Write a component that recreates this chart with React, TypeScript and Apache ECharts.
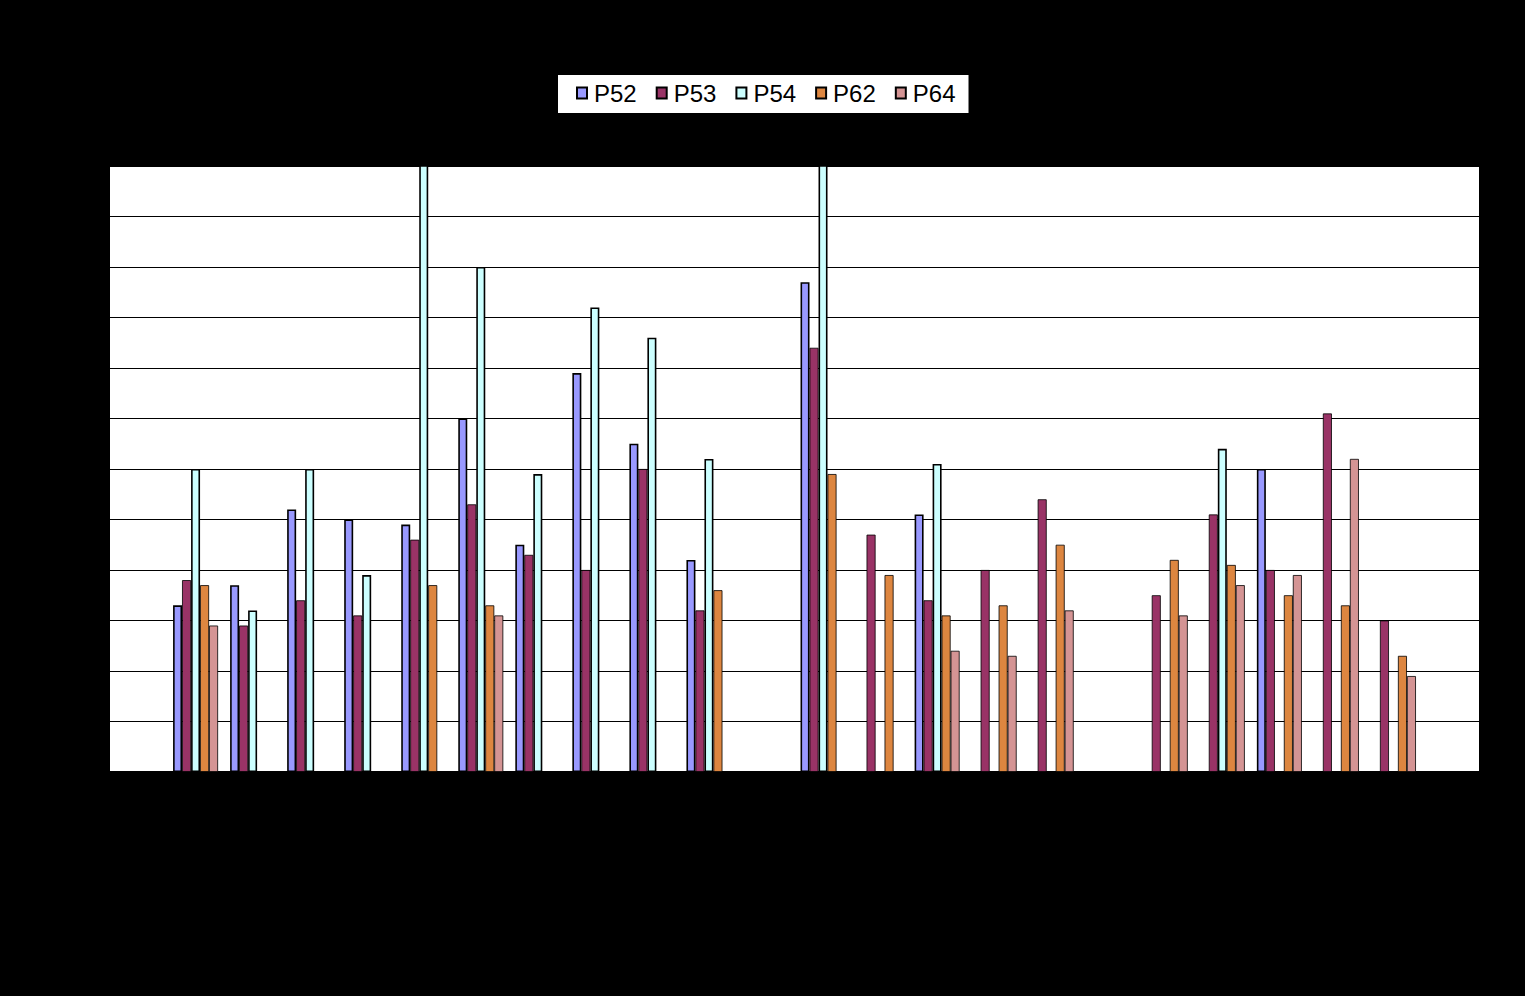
import React, { useEffect, useRef } from "react";
import * as echarts from "echarts";

const categories = [
  "1", "2", "3", "4", "5", "6", "7", "8", "9", "10", "11", "12",
  "13", "14", "15", "16", "17", "18", "19", "20", "21", "22", "23", "24",
];
const seriesNames = ["P52", "P53", "P54", "P62", "P64"];
const p52 = [null, 3.3, 3.7, 5.2, 5.0, 4.9, 7.0, 4.5, 7.9, 6.5, 4.2, null, 9.7, null, 5.1, null, null, null, null, null, 6.0, null, null, null];
const p53 = [null, 3.8, 2.9, 3.4, 3.1, 4.6, 5.3, 4.3, 4.0, 6.0, 3.2, null, 8.4, 4.7, 3.4, 4.0, 5.4, null, 3.5, 5.1, 4.0, 7.1, 3.0, null];
const p54 = [null, 6.0, 3.2, 6.0, 3.9, 13, 10.0, 5.9, 9.2, 8.6, 6.2, null, 13, null, 6.1, null, null, null, null, 6.4, null, null, null, null];
const p62 = [null, 3.7, null, null, null, 3.7, 3.3, null, null, null, 3.6, null, 5.9, 3.9, 3.1, 3.3, 4.5, null, 4.2, 4.1, 3.5, 3.3, 2.3, null];
const p64 = [null, 2.9, null, null, null, null, 3.1, null, null, null, null, null, null, null, 2.4, 2.3, 3.2, null, 3.1, 3.7, 3.9, 6.2, 1.9, null];
const colors = ["#9999FF", "#993366", "#CCFFFF", "#DD8640", "#D49494"];
const borderWidths = [1.6, 0.8, 1.6, 0.8, 0.8];

export default function App() {
  const ref = useRef<HTMLDivElement>(null);
  useEffect(() => {
    if (!ref.current) return;
    const chart = echarts.init(ref.current, null, { renderer: "svg" });
    const values = [p52, p53, p54, p62, p64];
    chart.setOption({
      animation: false,
      backgroundColor: "#000000",
      textStyle: { fontFamily: "Arial, 'Liberation Sans', sans-serif" },
      legend: {
        data: seriesNames.map((n) => ({ name: n, icon: "rect" })),
        left: 558,
        top: 75,
        padding: [6, 13, 8, 18],
        backgroundColor: "#ffffff",
        itemWidth: 10,
        itemHeight: 11,
        itemGap: 19,
        textStyle: {
          color: "#000",
          fontSize: 24,
          padding: [0, 0, 0, 2],
          fontFamily: "Arial, 'Liberation Sans', sans-serif",
        },
      },
      grid: {
        left: 110,
        top: 166,
        right: 46,
        bottom: 224,
        show: true,
        backgroundColor: "#ffffff",
        borderWidth: 0,
      },
      xAxis: {
        type: "category",
        data: categories,
        axisLine: { show: true, lineStyle: { color: "#000", width: 2 } },
        axisTick: { show: false },
        axisLabel: { show: false },
      },
      yAxis: {
        type: "value",
        min: 0,
        max: 12,
        interval: 1,
        axisLine: { show: false },
        axisTick: { show: false },
        axisLabel: { show: false },
        splitLine: { show: true, lineStyle: { color: "#000", width: 1 } },
      },
      series: seriesNames.map((name, i) => ({
        name,
        type: "bar",
        data: values[i],
        barWidth: 9,
        barGap: "0%",
        clip: true,
        itemStyle: { color: colors[i], borderColor: "#000", borderWidth: borderWidths[i] },
      })),
    });
    return () => chart.dispose();
  }, []);
  return (
    <div
      ref={ref}
      style={{ position: "fixed", left: 0, top: 0, width: 1525, height: 996 }}
    />
  );
}
